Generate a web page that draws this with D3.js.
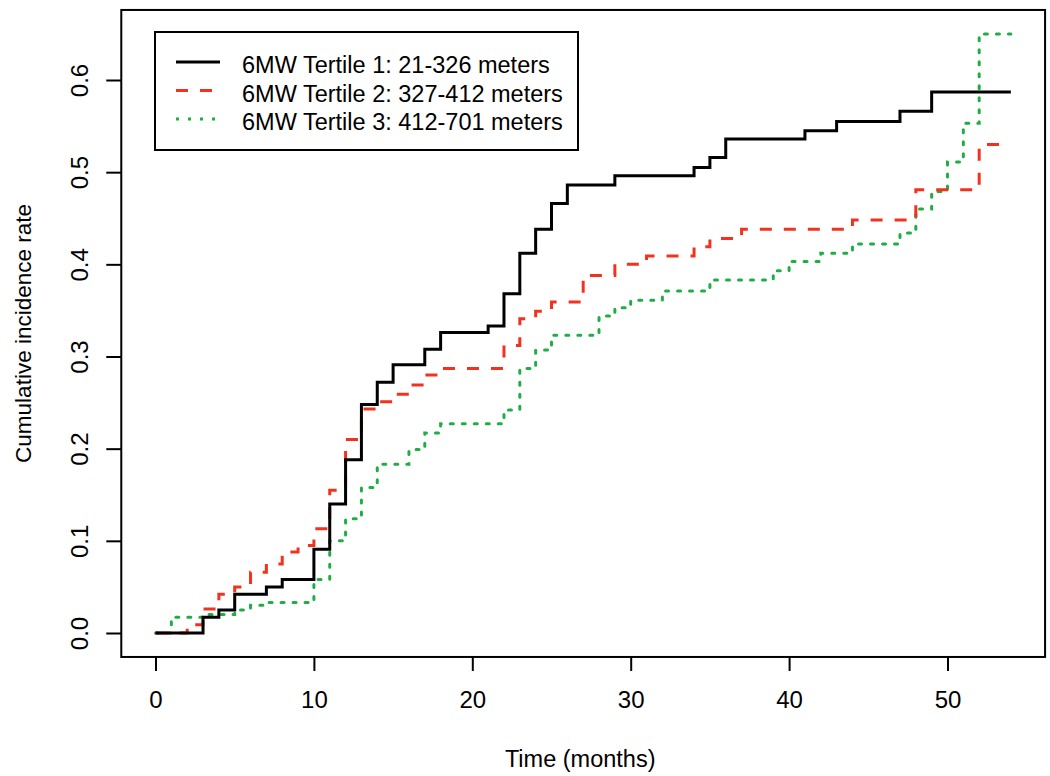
<!DOCTYPE html>
<html>
<head>
<meta charset="utf-8">
<script src="https://cdn.jsdelivr.net/npm/d3@7"></script>
<style>
  body { margin: 0; background: #fff; }
  text { font-family: "Liberation Sans", Arial, sans-serif; }
</style>
</head>
<body>
<div class="mainDiv"></div>
<script>
// step times (months) and cumulative incidence for each tertile
const t1Time = [0, 3, 4, 5, 7, 8, 10, 11, 12, 13, 14, 15, 17, 18, 21, 22, 23, 24, 25, 26, 29, 34, 35, 36, 41, 43, 47, 49, 54];
const t1Rate = [0, 0.017, 0.025, 0.042, 0.050, 0.058, 0.091, 0.140, 0.188, 0.248, 0.272, 0.291, 0.308, 0.326, 0.333, 0.368, 0.412, 0.438, 0.466, 0.486, 0.496, 0.505, 0.516, 0.536, 0.545, 0.555, 0.566, 0.587, 0.587];

const t2Time = [0, 2, 3, 4, 5, 6, 7, 8, 9, 10, 11, 12, 13, 14, 15, 16, 17, 18, 22, 23, 24, 25, 27, 29, 31, 34, 35, 37, 44, 48, 52, 54];
const t2Rate = [0, 0.009, 0.026, 0.042, 0.050, 0.066, 0.075, 0.088, 0.095, 0.113, 0.155, 0.210, 0.243, 0.251, 0.259, 0.269, 0.280, 0.287, 0.312, 0.341, 0.349, 0.359, 0.388, 0.400, 0.409, 0.419, 0.428, 0.438, 0.448, 0.481, 0.530, 0.530];

const t3Time = [0, 1, 3, 5, 6, 7, 10, 11, 12, 13, 14, 16, 17, 18, 22, 23, 24, 25, 28, 29, 30, 32, 35, 39, 40, 42, 44, 47, 48, 49, 50, 51, 52, 54];
const t3Rate = [0, 0.017, 0.020, 0.025, 0.030, 0.033, 0.058, 0.100, 0.124, 0.158, 0.183, 0.199, 0.217, 0.227, 0.242, 0.287, 0.307, 0.323, 0.344, 0.353, 0.361, 0.371, 0.383, 0.393, 0.403, 0.412, 0.422, 0.434, 0.460, 0.479, 0.511, 0.553, 0.650, 0.650];

const labels = ["6MW Tertile 1: 21-326 meters", "6MW Tertile 2: 327-412 meters", "6MW Tertile 3: 412-701 meters"];
const colors = ["#000000", "#f2321e", "#1fae45"];
const dashes = ["none", "12,12", "3,9"];

const xTicks = [0, 10, 20, 30, 40, 50];
const yTicks = [0, 0.1, 0.2, 0.3, 0.4, 0.5, 0.6];

const svg = d3.select('.mainDiv').append('svg')
  .attr('width', 1050).attr('height', 776);

const x = d3.scaleLinear().domain([0, 50]).range([155.5, 947.5]);
const y = d3.scaleLinear().domain([0, 0.6]).range([633, 80]);

// R style box, 4% padding around data range
const x0 = x(-2.16), x1 = x(56.16);
const y0 = y(-0.026), y1 = y(0.676);

svg.append('rect')
  .attr('x', x0).attr('y', y1)
  .attr('width', x1 - x0).attr('height', y0 - y1)
  .attr('fill', 'none').attr('stroke', '#000').attr('stroke-width', 2);

const xAxis = svg.append('g')
  .attr('transform', `translate(0,${y0})`)
  .call(d3.axisBottom(x).tickValues(xTicks).tickSize(14).tickPadding(20).tickFormat(d3.format('d')));
xAxis.select('.domain').remove();
xAxis.selectAll('line').attr('stroke', '#000').attr('stroke-width', 2);
xAxis.selectAll('text').attr('font-size', 24).attr('fill', '#000')
  .attr('font-family', '"Liberation Sans", Arial, sans-serif');

const yAxis = svg.append('g')
  .attr('transform', `translate(${x0},0)`)
  .call(d3.axisLeft(y).tickValues(yTicks).tickSize(15).tickFormat(d3.format('.1f')));
yAxis.select('.domain').remove();
yAxis.selectAll('line').attr('stroke', '#000').attr('stroke-width', 2);
yAxis.selectAll('text')
  .attr('x', null).attr('dy', null)
  .attr('transform', 'translate(-33,0) rotate(-90)')
  .attr('text-anchor', 'middle')
  .attr('font-size', 24).attr('fill', '#000')
  .attr('font-family', '"Liberation Sans", Arial, sans-serif');

svg.append('text')
  .attr('x', (x0 + x1) / 2 - 3)
  .attr('y', 767)
  .attr('text-anchor', 'middle')
  .attr('font-size', 23.5)
  .text('Time (months)');

svg.append('text')
  .attr('transform', `translate(31,${(y0 + y1) / 2}) rotate(-90)`)
  .attr('text-anchor', 'middle')
  .attr('font-size', 22.5)
  .text('Cumulative incidence rate');

const series = [
  d3.zip(t1Time, t1Rate),
  d3.zip(t2Time, t2Rate),
  d3.zip(t3Time, t3Rate)
];

const line = d3.line()
  .x(d => x(d[0]))
  .y(d => y(d[1]))
  .curve(d3.curveStepAfter);

// draw green first so black sits on top
[2, 1, 0].forEach(i => {
  svg.append('path')
    .datum(series[i])
    .attr('d', line)
    .attr('fill', 'none')
    .attr('stroke', colors[i])
    .attr('stroke-width', 3)
    .attr('stroke-dasharray', dashes[i])
    .attr('stroke-linecap', i == 2 ? 'round' : 'butt');
});

// legend
const legend = svg.append('g');
legend.append('rect')
  .attr('x', 155).attr('y', 32)
  .attr('width', 423).attr('height', 118)
  .attr('fill', '#fff').attr('stroke', '#000').attr('stroke-width', 2);

for (let i = 0; i < labels.length; i++) {
  const base = 73 + 28.5 * i;
  legend.append('line')
    .attr('x1', 176).attr('x2', 220)
    .attr('y1', base - 11).attr('y2', base - 11)
    .attr('stroke', colors[i])
    .attr('stroke-width', 3)
    .attr('stroke-dasharray', dashes[i]);
  legend.append('text')
    .attr('x', 242).attr('y', base)
    .attr('font-size', 23.5)
    .text(labels[i]);
}
</script>
</body>
</html>
